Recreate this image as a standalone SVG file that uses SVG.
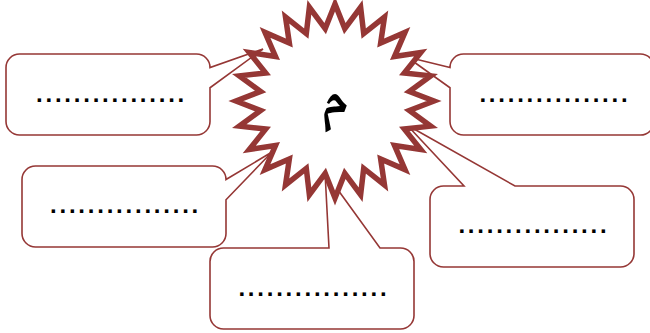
<svg xmlns="http://www.w3.org/2000/svg" width="650" height="333" viewBox="0 0 650 333">
<style>
.box{fill:#ffffff;stroke:#953735;stroke-width:1.6;stroke-linejoin:miter}
.dots{font-family:"Liberation Sans",Arial,sans-serif;font-weight:bold;font-size:24px;letter-spacing:2.77px;fill:#000000}
.star{fill:#ffffff;stroke:#953735;stroke-width:5.5;stroke-linejoin:miter;stroke-miterlimit:10}
.letter{font-family:"Noto Naskh Arabic","Noto Sans Arabic","DejaVu Sans",sans-serif;font-weight:bold;font-size:54px;fill:#000000}
</style>
<rect width="650" height="333" fill="#ffffff"/>
<g id="connectors"></g>
<g id="callout-top-left">
<path class="box" d="M19.5,54 H196.5 A13.5,13.5 0 0 1 210,67.5 L263,49 L210,87.75 V121.5 A13.5,13.5 0 0 1 196.5,135 H19.5 A13.5,13.5 0 0 1 6,121.5 V67.5 A13.5,13.5 0 0 1 19.5,54 Z"/>
<text class="dots" x="36" y="101.7">................</text>
</g>
<g id="callout-top-right">
<path class="box" d="M463.5,54 H640.5 A13.5,13.5 0 0 1 654,67.5 V121.5 A13.5,13.5 0 0 1 640.5,135 H463.5 A13.5,13.5 0 0 1 450,121.5 V87.75 L407,57 L450,67.5 A13.5,13.5 0 0 1 463.5,54 Z"/>
<text class="dots" x="479.4" y="101.7">................</text>
</g>
<g id="callout-middle-left">
<path class="box" d="M35.5,166 H212.5 A13.5,13.5 0 0 1 226,179.5 L272,152 L226,199.75 V233.5 A13.5,13.5 0 0 1 212.5,247 H35.5 A13.5,13.5 0 0 1 22,233.5 V179.5 A13.5,13.5 0 0 1 35.5,166 Z"/>
<text class="dots" x="50" y="213.4">................</text>
</g>
<g id="callout-bottom-center">
<path class="box" d="M223.5,248 H329 L325,172 L380,248 H400.5 A13.5,13.5 0 0 1 414,261.5 V315.5 A13.5,13.5 0 0 1 400.5,329 H223.5 A13.5,13.5 0 0 1 210,315.5 V261.5 A13.5,13.5 0 0 1 223.5,248 Z"/>
<text class="dots" x="238.4" y="295.7">................</text>
</g>
<g id="callout-bottom-right">
<path class="box" d="M443.5,186 H464 L407,125 L515,186 H620.5 A13.5,13.5 0 0 1 634,199.5 V253.5 A13.5,13.5 0 0 1 620.5,267 H443.5 A13.5,13.5 0 0 1 430,253.5 V199.5 A13.5,13.5 0 0 1 443.5,186 Z"/>
<text class="dots" x="458.4" y="233.4">................</text>
</g>
<g id="star-node">
<polygon class="star" points="335,4 344.79,28.62 360.62,7.3 363.7,33.56 384.5,17 380.66,43.09 405,32.41 394.5,56.56 420.74,52.5 404.29,73.06 430.63,75.89 409.36,91.47 434,101 409.36,110.53 430.63,126.11 404.29,128.94 420.74,149.5 394.5,145.44 405,169.59 380.66,158.91 384.5,185 363.7,168.44 360.62,194.7 344.79,173.38 335,198 325.21,173.38 309.38,194.7 306.3,168.44 285.5,185 289.34,158.91 265,169.59 275.5,145.44 249.26,149.5 265.71,128.94 239.37,126.11 260.64,110.53 236,101 260.64,91.47 239.37,75.89 265.71,73.06 249.26,52.5 275.5,56.56 265,32.41 289.34,43.09 285.5,17 306.3,33.56 309.38,7.3 325.21,28.62"/>
<text class="letter" x="335" y="115" text-anchor="middle">م</text>
</g>
</svg>
